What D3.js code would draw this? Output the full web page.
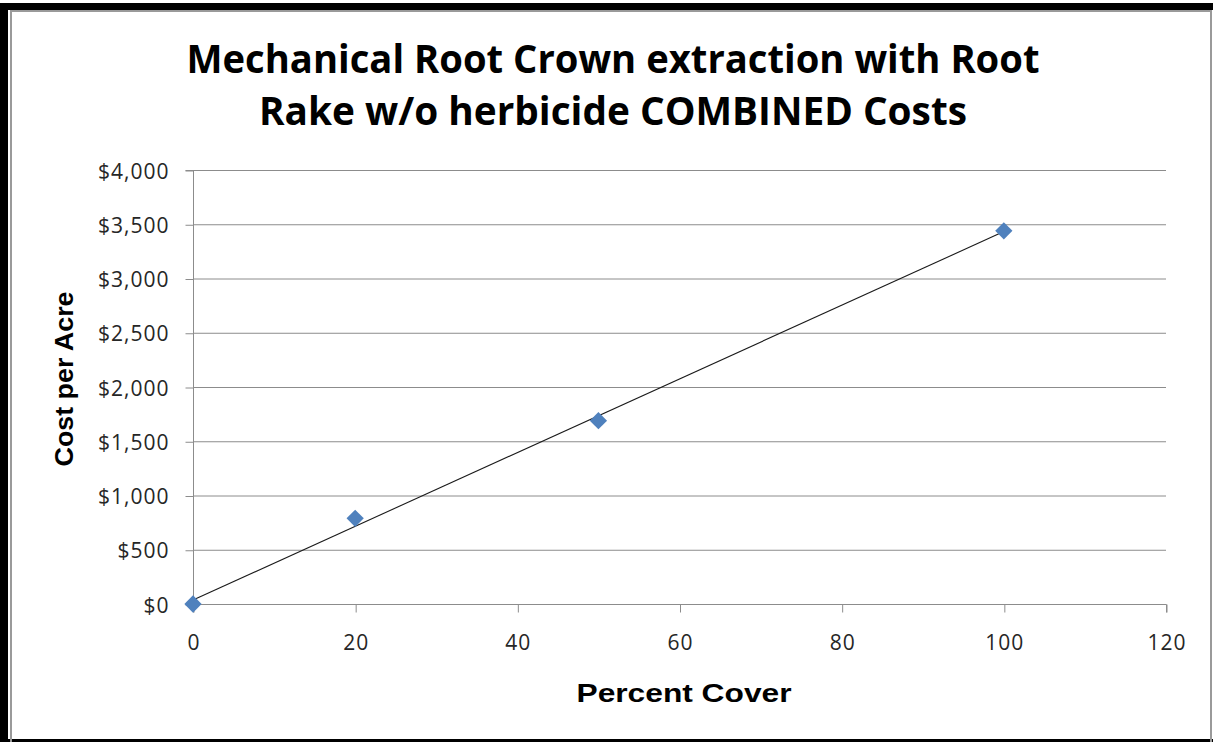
<!DOCTYPE html>
<html><head><meta charset="utf-8">
<script src="https://cdn.jsdelivr.net/npm/d3@7"></script>
<style>html,body{margin:0;padding:0;background:#fff;overflow:hidden}</style>
</head><body>
<svg id="c" width="1213" height="742"></svg>
<script>
const percentCover = [0, 20, 50, 100];
const costPerAcre = [0, 790, 1690, 3440];
const xTicks = [0, 20, 40, 60, 80, 100, 120];
const yTicks = [0, 500, 1000, 1500, 2000, 2500, 3000, 3500, 4000];
const titleLines = ["Mechanical Root Crown extraction with Root", "Rake w/o herbicide COMBINED Costs"];

const svg = d3.select("#c");
// frame
svg.append("rect").attr("x",0).attr("y",3).attr("width",1213).attr("height",7).attr("fill","#000");
svg.append("rect").attr("x",0).attr("y",3).attr("width",8).attr("height",739).attr("fill","#000");
svg.append("rect").attr("x",0).attr("y",739).attr("width",1213).attr("height",3).attr("fill","#000");
svg.append("rect").attr("x",11).attr("y",11).attr("width",1200).attr("height",740)
  .attr("fill","none").attr("stroke","#9a9a9a").attr("stroke-width",2);

const x = d3.scaleLinear().domain([0,120]).range([193,1166]);
const y = d3.scaleLinear().domain([0,4000]).range([604,170]);

// gridlines
svg.append("g").selectAll("line").data(yTicks.filter(d=>d>0)).join("line")
  .attr("x1",x(0)).attr("x2",x(120)).attr("y1",d=>y(d)+0.5).attr("y2",d=>y(d)+0.5)
  .attr("stroke","#8c8c8c").attr("stroke-width",1);

// axes
const yAxis = d3.axisLeft(y).tickValues(yTicks).tickSize(8).tickPadding(16)
  .tickFormat(d=>"$"+d3.format(",")(d));
const gy = svg.append("g").attr("transform",`translate(${x(0)+0.5},0.5)`).call(yAxis);
const xAxis = d3.axisBottom(x).tickValues(xTicks).tickSize(8).tickPadding(23);
const gx = svg.append("g").attr("transform",`translate(0.5,${y(0)+0.5})`).call(xAxis);
[gx,gy].forEach(g=>{
  g.selectAll("path.domain").attr("stroke","#8c8c8c");
  g.selectAll(".tick line").attr("stroke","#8c8c8c");
  g.selectAll("text").attr("font-family","'Open Sans', sans-serif").attr("font-size",21)
    .attr("fill","#262626").attr("letter-spacing","1px");
});
gy.selectAll("text").attr("dy","0.36em");
gx.select("path.domain").attr("d",`M${x(0)},8V0H${x(120)}V8`);
gy.select("path.domain").attr("d",`M-8,${y(4000)}H0V${y(0)}`);

// trendline (least-squares fit of the series)
const mx = d3.mean(percentCover), my = d3.mean(costPerAcre);
const slope = d3.sum(percentCover.map((v,i)=>(v-mx)*(costPerAcre[i]-my))) /
              d3.sum(percentCover.map(v=>(v-mx)*(v-mx)));
const icpt = my - slope*mx;
const xr = d3.extent(percentCover);
svg.append("line").attr("x1",x(xr[0])).attr("y1",y(icpt+slope*xr[0]))
  .attr("x2",x(xr[1])).attr("y2",y(icpt+slope*xr[1]))
  .attr("stroke","#1a1a1a").attr("stroke-width",1.1);

// markers
const diamond = d3.symbol().type(d3.symbolDiamond2).size(190);
svg.append("g").selectAll("path").data(percentCover).join("path")
  .attr("d",diamond)
  .attr("transform",(d,i)=>`translate(${x(d)},${y(costPerAcre[i])})`)
  .attr("fill","#4f81bd");

// title
const titleY = [73, 125];
const titleW = [853, 708];
svg.append("g").selectAll("text").data(titleLines).join("text")
  .attr("x",613).attr("y",(d,i)=>titleY[i]).attr("text-anchor","middle")
  .attr("font-family","'Open Sans', sans-serif").attr("font-weight","bold").attr("font-size",39)
  .attr("textLength",(d,i)=>titleW[i]).attr("lengthAdjust","spacingAndGlyphs")
  .attr("fill","#000").text(d=>d);

// axis titles
svg.append("text").attr("x",684).attr("y",702).attr("text-anchor","middle")
  .attr("font-family","'Liberation Sans', Arial, sans-serif").attr("font-weight","bold").attr("font-size",26)
  .attr("textLength",215).attr("lengthAdjust","spacingAndGlyphs")
  .attr("fill","#000").text("Percent Cover");
svg.append("text").attr("transform","translate(73,379) rotate(-90)").attr("text-anchor","middle")
  .attr("font-family","'Liberation Sans', Arial, sans-serif").attr("font-weight","bold").attr("font-size",25)
  .attr("textLength",175).attr("lengthAdjust","spacingAndGlyphs")
  .attr("fill","#000").text("Cost per Acre");
</script>
</body></html>
